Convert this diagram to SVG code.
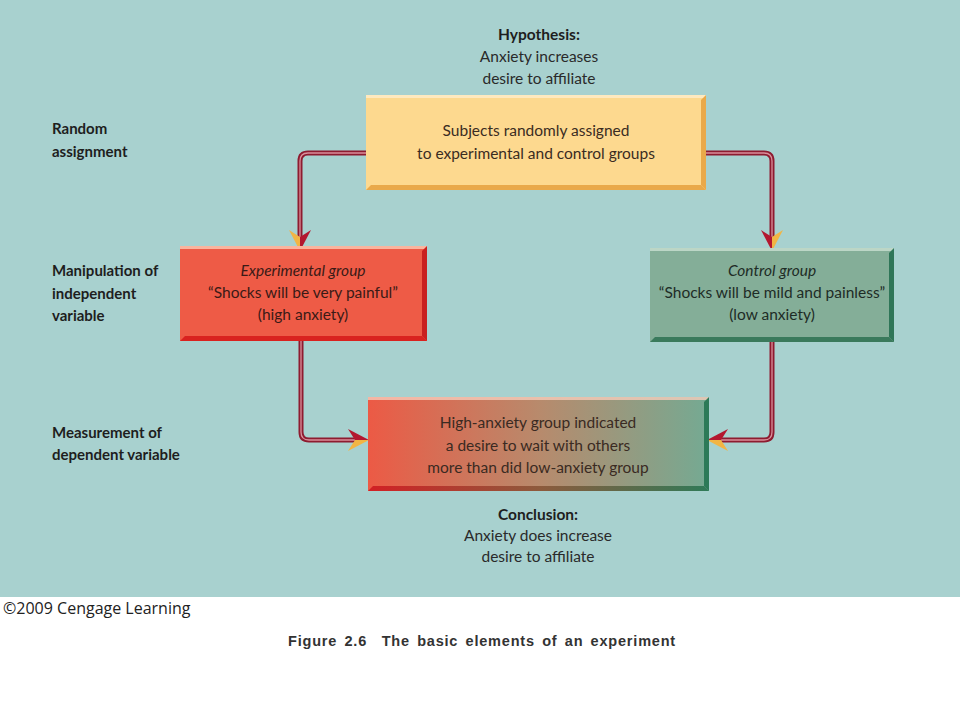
<svg xmlns="http://www.w3.org/2000/svg" width="960" height="720" viewBox="0 0 960 720">
<defs>
<style>
.lab{font-family:Lato,"Open Sans","Liberation Sans",sans-serif;font-size:15px;font-weight:bold;fill:#1e1e1e}
.t{font-family:Lato,"Open Sans","Liberation Sans",sans-serif;font-size:15.5px;text-anchor:middle}
.hb{font-weight:bold}
.it{font-style:italic}
.conn{fill:none;stroke:#8e1b30;stroke-width:5;stroke-linejoin:round}
.conni{fill:none;stroke:#d9909b;stroke-width:1.3}
.ar{fill:#b3172f}
.ay{fill:#f2b544}
</style>
<linearGradient id="gb" x1="0" y1="0" x2="1" y2="0">
<stop offset="0" stop-color="#ec5a45"/>
<stop offset="0.5" stop-color="#b88a6c"/>
<stop offset="1" stop-color="#74aa93"/>
</linearGradient>
<linearGradient id="gbb" x1="0" y1="0" x2="1" y2="0">
<stop offset="0" stop-color="#d21f24"/>
<stop offset="0.5" stop-color="#8d5a3c"/>
<stop offset="1" stop-color="#2f7a58"/>
</linearGradient>
</defs>
<rect x="0" y="0" width="960" height="597" fill="#a8d1cf"/>
<rect x="0" y="597" width="960" height="123" fill="#ffffff"/>

<g id="hypothesis">
<text class="t hb" x="539" y="40" fill="#1e1e1e">Hypothesis:</text>
<text class="t" x="539" y="62" fill="#2a2a2a">Anxiety increases</text>
<text class="t" x="539" y="84" fill="#2a2a2a">desire to affiliate</text>
</g>

<g id="labels">
<text class="lab" x="52" y="134">Random</text>
<text class="lab" x="52" y="157">assignment</text>
<text class="lab" x="52" y="276">Manipulation of</text>
<text class="lab" x="52" y="299">independent</text>
<text class="lab" x="52" y="321">variable</text>
<text class="lab" x="52" y="438">Measurement of</text>
<text class="lab" x="52" y="460">dependent variable</text>
</g>

<g id="connectors">
<path class="conn" d="M366 153 H308 Q300 153 300 161 V237"/>
<path class="conni" d="M366 153 H308 Q300 153 300 161 V237"/>
<path class="conn" d="M706 153 H764 Q772 153 772 161 V237"/>
<path class="conni" d="M706 153 H764 Q772 153 772 161 V237"/>
<path class="conn" d="M301 341 V432 Q301 440 309 440 H356"/>
<path class="conni" d="M301 341 V432 Q301 440 309 440 H356"/>
<path class="conn" d="M772 342 V432 Q772 440 764 440 H721"/>
<path class="conni" d="M772 342 V432 Q772 440 764 440 H721"/>
<polygon class="ay" points="300,251 289,230 300,237"/>
<polygon class="ar" points="300,251 300,237 311,230"/>
<polygon class="ar" points="772,251 761,230 772,237"/>
<polygon class="ay" points="772,251 772,237 783,230"/>
<polygon class="ar" points="369,440 348,429 355,440"/>
<polygon class="ay" points="369,440 355,440 348,451"/>
<polygon class="ar" points="707,440 728,429 721,440"/>
<polygon class="ay" points="707,440 721,440 728,451"/>
</g>

<g id="random-assignment">
<rect x="366" y="95" width="340" height="95" fill="#fdd98f"/>
<rect x="366" y="95" width="340" height="3" fill="#fee9bf"/>
<polygon points="701,100 706,95 706,190 701,185" fill="#e9a94a"/>
<polygon points="366,190 371,185 701,185 706,190" fill="#e9a94a"/>
<text class="t" x="536" y="136" fill="#3a2c22">Subjects randomly assigned</text>
<text class="t" x="536" y="159" fill="#3a2c22">to experimental and control groups</text>
</g>

<g id="experimental-group">
<rect x="180" y="246" width="247" height="95" fill="#ee5b46"/>
<rect x="180" y="246" width="247" height="3" fill="#f9b49e"/>
<polygon points="422,251 427,246 427,341 422,336" fill="#c9201f"/>
<polygon points="180,341 185,336 422,336 427,341" fill="#d9221f"/>
<text class="t it" x="303" y="276" fill="#3a1a16">Experimental group</text>
<text class="t" x="303" y="298" fill="#3a1a16">“Shocks will be very painful”</text>
<text class="t" x="303" y="320" fill="#3a1a16">(high anxiety)</text>
</g>

<g id="control-group">
<rect x="650" y="248" width="244" height="94" fill="#84ae98"/>
<rect x="650" y="248" width="244" height="3" fill="#bcd6c6"/>
<polygon points="889,253 894,248 894,342 889,337" fill="#2f7658"/>
<polygon points="650,342 655,337 889,337 894,342" fill="#3a7a5c"/>
<text class="t it" x="772" y="276" fill="#1e2c26">Control group</text>
<text class="t" x="772" y="298" fill="#1e2c26">“Shocks will be mild and painless”</text>
<text class="t" x="772" y="320" fill="#1e2c26">(low anxiety)</text>
</g>

<g id="measurement">
<rect x="368" y="397" width="341" height="94" fill="url(#gb)"/>
<rect x="368" y="397" width="341" height="3" fill="#f6cdbb" opacity="0.8"/>
<polygon points="704,402 709,397 709,491 704,486" fill="#2c7a58"/>
<polygon points="368,491 373,486 704,486 709,491" fill="url(#gbb)"/>
<text class="t" x="538" y="428" fill="#3a2a22">High-anxiety group indicated</text>
<text class="t" x="538" y="451" fill="#3a2a22">a desire to wait with others</text>
<text class="t" x="538" y="473" fill="#3a2a22">more than did low-anxiety group</text>
</g>

<g id="conclusion">
<text class="t hb" x="538" y="520" fill="#1e1e1e">Conclusion:</text>
<text class="t" x="538" y="541" fill="#2a2a2a">Anxiety does increase</text>
<text class="t" x="538" y="562" fill="#2a2a2a">desire to affiliate</text>
</g>

<text x="3" y="614" font-family="'Open Sans','Liberation Sans',sans-serif" font-size="16" fill="#222">©2009 Cengage Learning</text>
<text x="482" y="646" text-anchor="middle" font-family="'Liberation Sans',Arial,sans-serif" font-size="14.5" font-weight="bold" fill="#333" word-spacing="2.5" letter-spacing="0.8" xml:space="preserve">Figure 2.6  The basic elements of an experiment</text>
</svg>
